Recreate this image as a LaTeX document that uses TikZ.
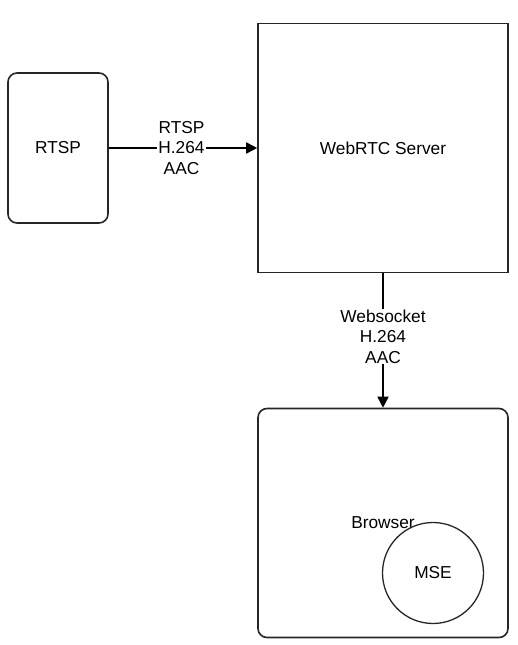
\documentclass[tikz,border=0pt]{standalone}
\usepackage{fontspec}
\setmainfont{Liberation Sans}
\usetikzlibrary{arrows.meta}
\begin{document}
\begin{tikzpicture}[x=1pt,y=-1pt,
  every node/.style={font=\fontsize{17.3}{20.5}\selectfont},
  boxline/.style={draw=black!85, line width=1.6pt},
  conn/.style={line width=1.6pt, -{Triangle[length=11pt,width=11pt]}},
  lbl/.style={fill=white, align=center, inner sep=1pt}]
\useasboundingbox (0,0) rectangle (518,645);
\node[boxline, rounded corners=9pt, minimum width=100pt, minimum height=150pt] (rtsp) at (58,148) {RTSP};
\node[boxline, minimum width=250pt, minimum height=249pt] (server) at (383,148) {WebRTC Server};
\node[boxline, rounded corners=9pt, minimum width=250pt, minimum height=229pt] (browser) at (383,523) {};
\node (btext) at (383,523) {Browser};
\node[draw=black!85, line width=1.3pt, circle, minimum size=101pt, inner sep=0pt] (mse) at (433,573) {MSE};
\draw[conn] (rtsp.east) -- node[lbl, pos=0.49] {RTSP\\H.264\\AAC} (server.west);
\draw[conn] (server.south) -- node[lbl, pos=0.47] {Websocket\\H.264\\AAC} (browser.north);
\end{tikzpicture}
\end{document}
